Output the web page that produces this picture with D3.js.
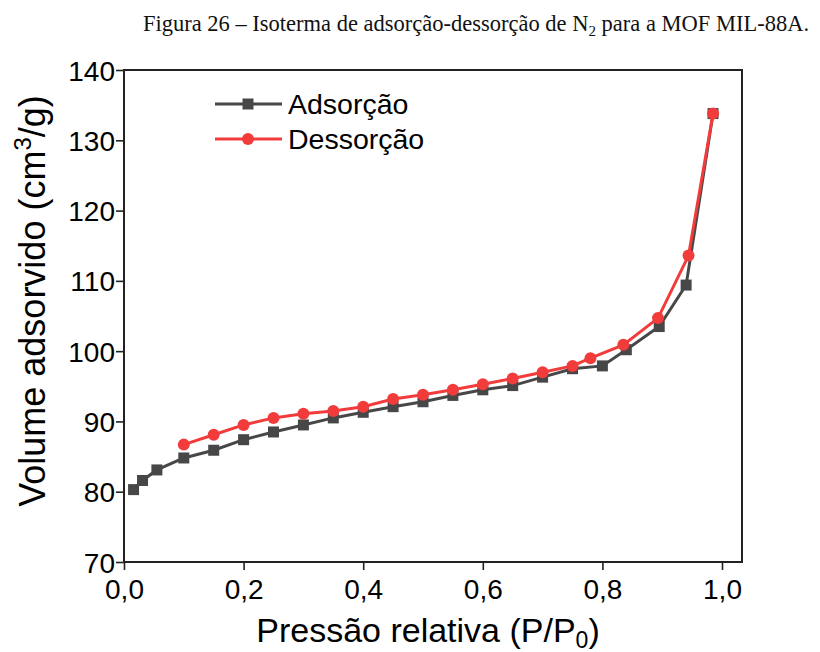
<!DOCTYPE html>
<html>
<head>
<meta charset="utf-8">
<script src="https://cdn.jsdelivr.net/npm/d3@7"></script>
<style>
  html, body { margin: 0; padding: 0; background: #fff; }
  svg { display: block; }
</style>
</head>
<body>
<script>
// N2 adsorption–desorption isotherm, MIL-88A
const adsP = [0.016, 0.031, 0.055, 0.10, 0.15, 0.20, 0.25, 0.30, 0.35, 0.40, 0.45, 0.50, 0.55, 0.60, 0.65, 0.70, 0.75, 0.80, 0.84, 0.895, 0.94, 0.985];
const adsV = [80.3, 81.6, 83.1, 84.8, 85.9, 87.4, 88.5, 89.5, 90.5, 91.3, 92.1, 92.8, 93.7, 94.5, 95.1, 96.3, 97.5, 97.9, 100.2, 103.5, 109.4, 133.8];
const desP = [0.10, 0.15, 0.20, 0.25, 0.30, 0.35, 0.40, 0.45, 0.50, 0.55, 0.60, 0.65, 0.70, 0.75, 0.78, 0.835, 0.893, 0.944, 0.985];
const desV = [86.7, 88.1, 89.5, 90.5, 91.1, 91.5, 92.1, 93.2, 93.8, 94.5, 95.3, 96.1, 97.0, 97.9, 99.0, 100.9, 104.7, 113.6, 133.8];
const xTicks = [0, 0.2, 0.4, 0.6, 0.8, 1.0];
const yTicks = [70, 80, 90, 100, 110, 120, 130, 140];
const seriesNames = ["Adsorção", "Dessorção"];

const W = 820, H = 652;
const m = { left: 124, top: 70, right: 742, bottom: 562 };
const gray = "#474747", red = "#f23c3c";

const svg = d3.select("body").append("svg").attr("width", W).attr("height", H);

svg.append("text")
  .attr("x", 476).attr("y", 31)
  .attr("text-anchor", "middle")
  .style("font-family", "'Liberation Serif', 'Times New Roman', serif")
  .style("font-size", "22.5px")
  .attr("fill", "#111")
  .call(t => {
    t.append("tspan").text("Figura 26 – Isoterma de adsorção-dessorção de N");
    t.append("tspan").attr("dy", 5).style("font-size", "15px").text("2");
    t.append("tspan").attr("dy", -5).text(" para a MOF MIL-88A.");
  });

const x = d3.scaleLinear().domain([0, 1.0 + 20 / 598]).range([m.left, m.right]);
const y = d3.scaleLinear().domain([70, 140]).range([m.bottom, m.top]);

const sans = "'Liberation Sans', Arial, sans-serif";
const fmt = d => d3.format(".1f")(d).replace(".", ",");

// axes
const xAxis = svg.append("g").attr("transform", `translate(0,${m.bottom})`)
  .call(d3.axisBottom(x).tickValues(xTicks).tickFormat(fmt).tickSize(8).tickPadding(5));
const yAxis = svg.append("g").attr("transform", `translate(${m.left},0)`)
  .call(d3.axisLeft(y).tickValues(yTicks).tickSize(8).tickPadding(1));
[xAxis, yAxis].forEach(a => {
  a.select(".domain").remove();
  a.selectAll("line").attr("stroke", "#222").attr("stroke-width", 1.6);
  a.selectAll("text").style("font-family", sans).style("font-size", "28px").attr("fill", "#000");
});
xAxis.selectAll("text").attr("dy", "0.85em");
yAxis.selectAll("text").attr("dy", "0.36em");

// frame
svg.append("rect")
  .attr("x", m.left).attr("y", m.top)
  .attr("width", m.right - m.left).attr("height", m.bottom - m.top)
  .attr("fill", "none").attr("stroke", "#222").attr("stroke-width", 2);

// axis titles
svg.append("text")
  .attr("x", 428).attr("y", 642)
  .attr("text-anchor", "middle")
  .style("font-family", sans).style("font-size", "34px")
  .call(t => {
    t.append("tspan").text("Pressão relativa (P/P");
    t.append("tspan").attr("dy", 6).style("font-size", "23px").text("0");
    t.append("tspan").attr("dy", -6).text(")");
  });

svg.append("text")
  .attr("transform", `translate(45,${(m.top + m.bottom) / 2 - 15}) rotate(-90)`)
  .attr("text-anchor", "middle")
  .style("font-family", sans).style("font-size", "36px")
  .call(t => {
    t.append("tspan").text("Volume adsorvido (cm");
    t.append("tspan").attr("dy", -14).style("font-size", "24px").text("3");
    t.append("tspan").attr("dy", 14).text("/g)");
  });

const line = d3.line().x(d => x(d[0])).y(d => y(d[1]));
const ads = adsP.map((p, i) => [p, adsV[i]]);
const des = desP.map((p, i) => [p, desV[i]]);

const plot = svg.append("g");

// Adsorção
plot.append("path").datum(ads).attr("d", line)
  .attr("fill", "none").attr("stroke", gray).attr("stroke-width", 3);
plot.selectAll("rect.ads").data(ads).join("rect").attr("class", "ads")
  .attr("x", d => x(d[0]) - 5.5).attr("y", d => y(d[1]) - 5.5)
  .attr("width", 11).attr("height", 11).attr("fill", gray);

// Dessorção
plot.append("path").datum(des).attr("d", line)
  .attr("fill", "none").attr("stroke", red).attr("stroke-width", 3);
plot.selectAll("circle.des").data(des).join("circle").attr("class", "des")
  .attr("cx", d => x(d[0])).attr("cy", d => y(d[1])).attr("r", 6).attr("fill", red);

// legend
const leg = svg.append("g");
const legRows = [
  { name: seriesNames[0], color: gray, shape: "square", y: 104 },
  { name: seriesNames[1], color: red, shape: "circle", y: 139 }
];
legRows.forEach(r => {
  leg.append("line").attr("x1", 215).attr("x2", 282).attr("y1", r.y).attr("y2", r.y)
    .attr("stroke", r.color).attr("stroke-width", 3);
  if (r.shape === "square") {
    leg.append("rect").attr("x", 248 - 5.5).attr("y", r.y - 5.5).attr("width", 11).attr("height", 11).attr("fill", r.color);
  } else {
    leg.append("circle").attr("cx", 248).attr("cy", r.y).attr("r", 6).attr("fill", r.color);
  }
  leg.append("text").attr("x", 288).attr("y", r.y).attr("dy", "0.36em")
    .style("font-family", sans).style("font-size", "28.5px").text(r.name);
});
</script>
</body>
</html>
